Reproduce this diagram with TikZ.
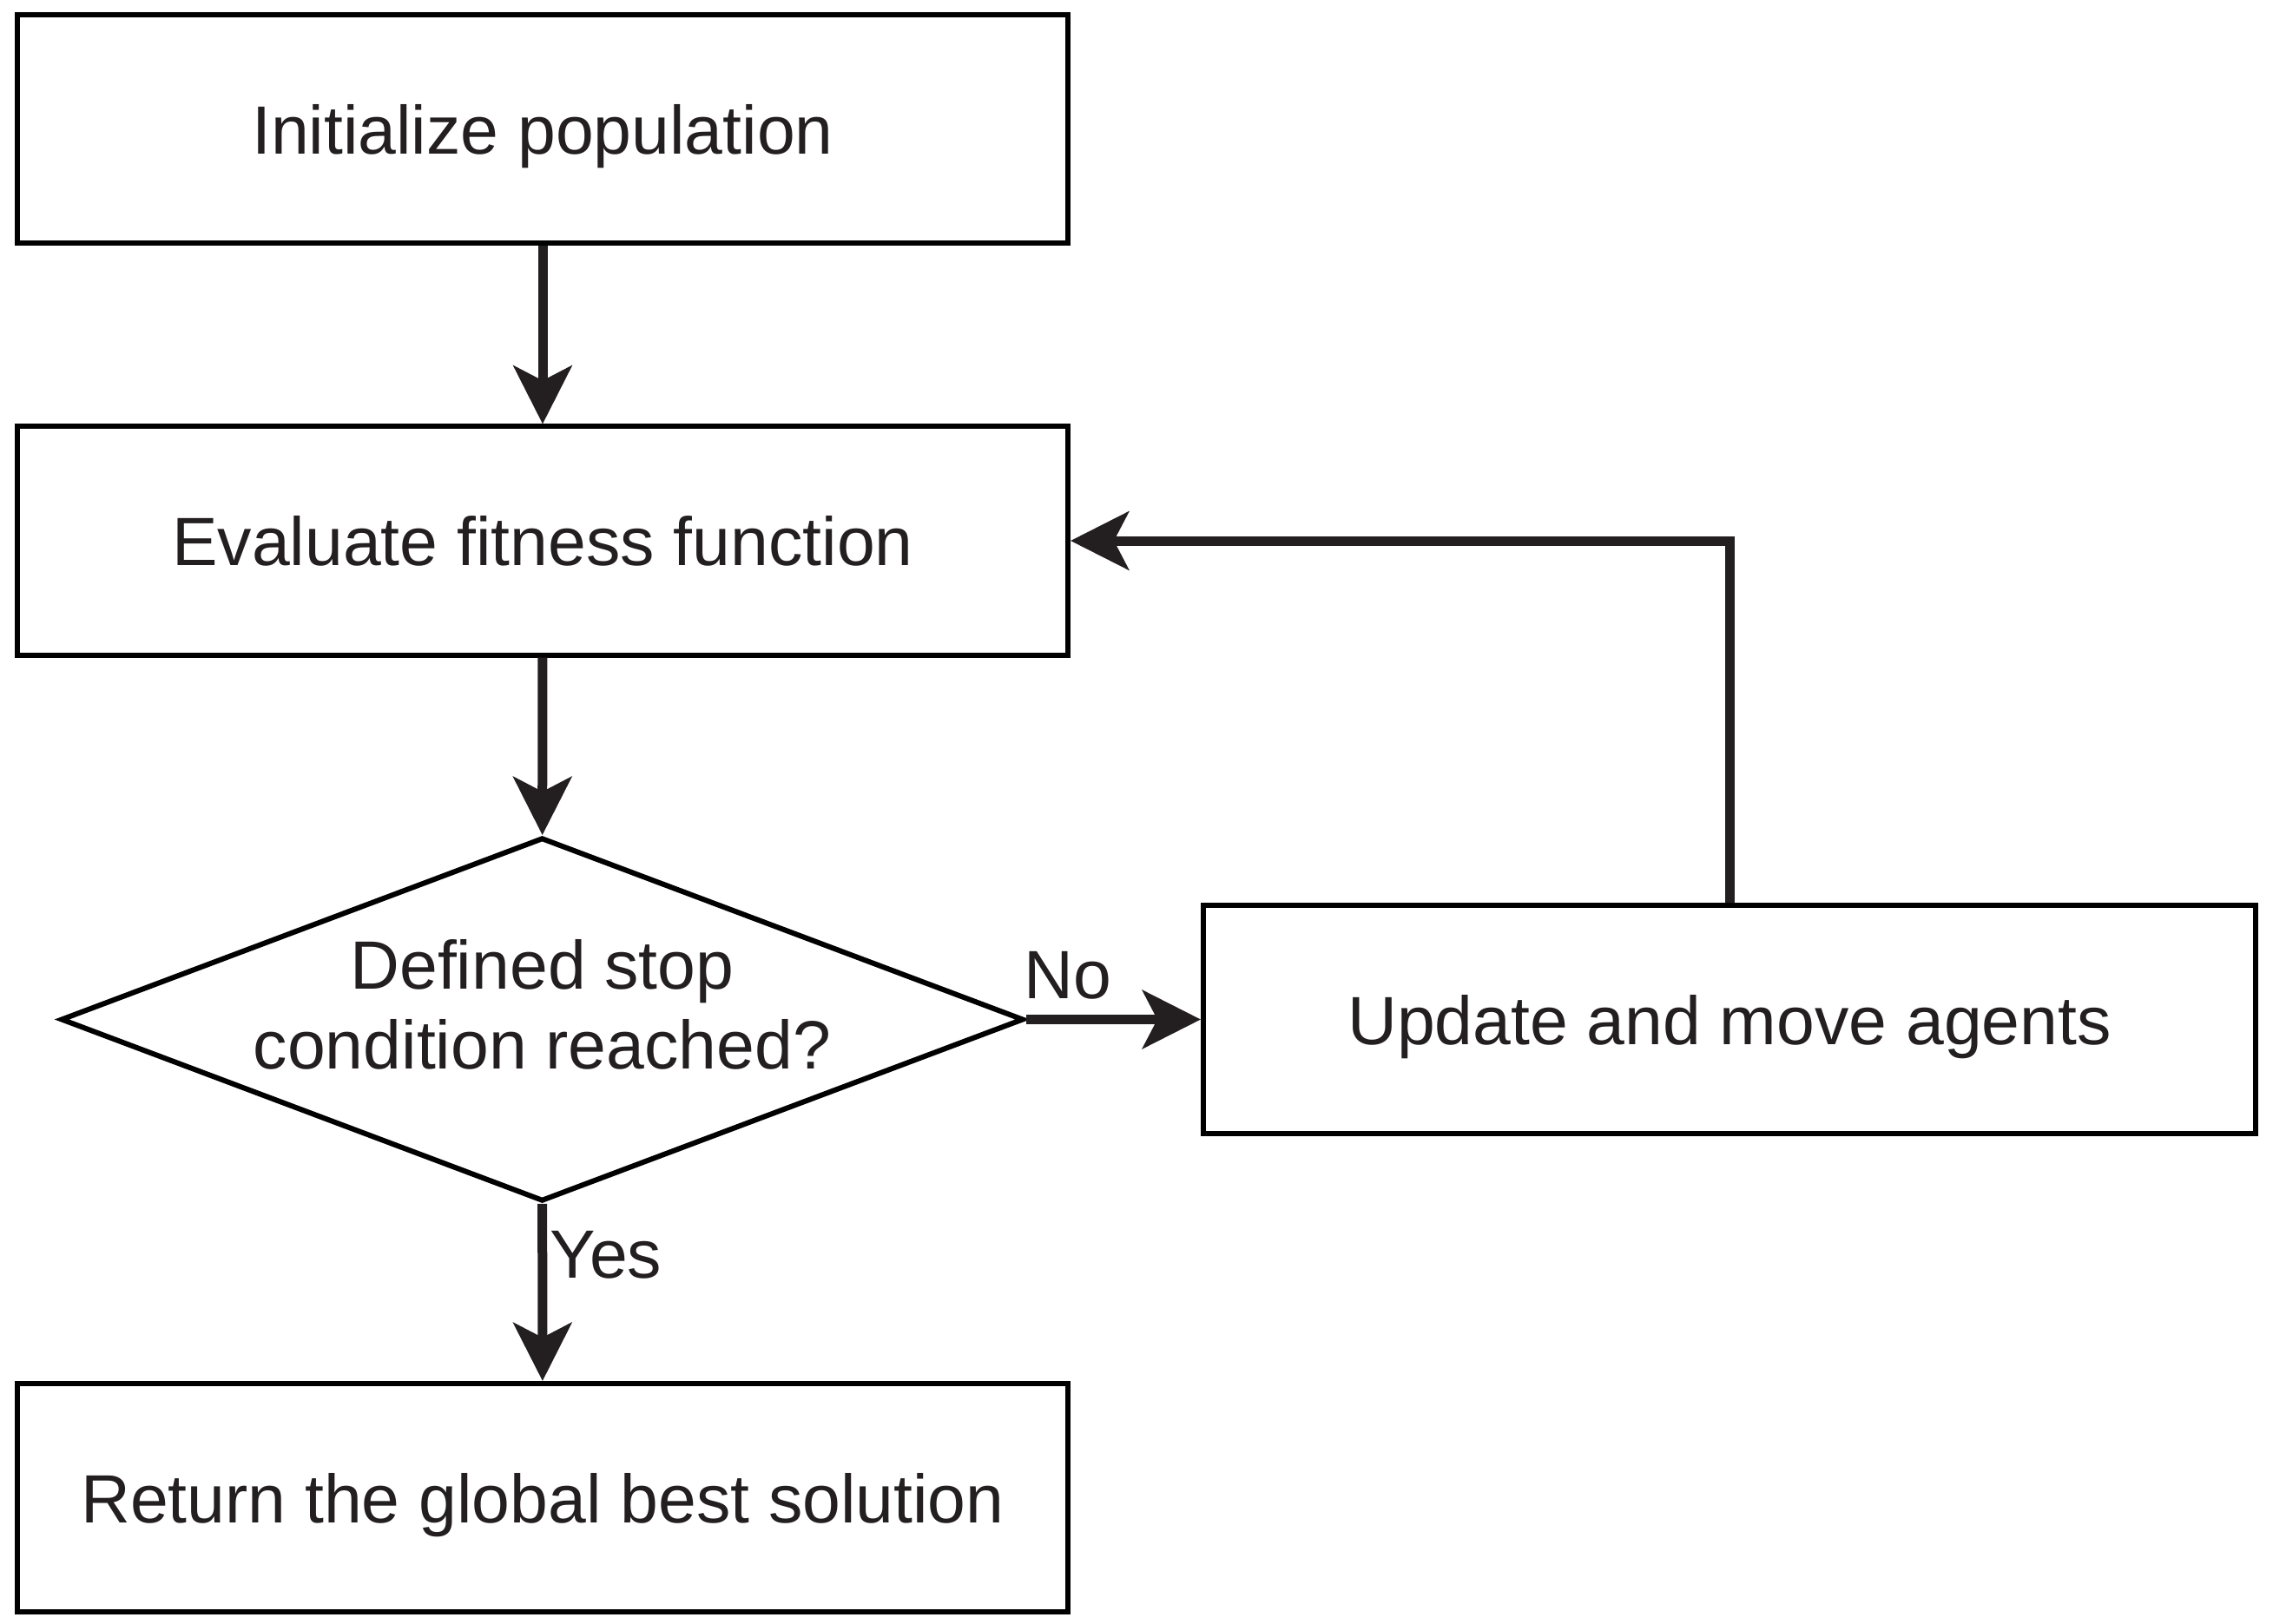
\documentclass[tikz,border=0pt]{standalone}
\usepackage{fontspec}
\setmainfont{Liberation Sans}
\usepackage{tikz}
\usetikzlibrary{positioning, shapes.geometric, arrows.meta}
\definecolor{ink}{HTML}{231F20}
\tikzset{Block/.style={draw, rectangle, line width=0.06cm, inner sep=0pt, minimum width=12.1cm, minimum height=2.63cm, text depth=0pt, align=center, text=ink, font=\fontsize{22.4}{26}\selectfont}}
\tikzset{Decision/.style={draw, diamond, aspect=2.65, line width=0.06cm, inner ysep=0pt, inner xsep=-0.5cm, text depth=10pt, minimum width=11.09cm, minimum height=4.19cm, align=center, text=ink, font=\fontsize{22.4}{26}\selectfont}}
\tikzset{Block Edge/.style={draw, ink, line width=0.11cm, -{Stealth[length=0.67cm, width=0.67cm, inset=0.17cm]}}}
\tikzset{Tag/.style={inner sep=0pt, text=ink, font=\fontsize{22.4}{26}\selectfont}}

\begin{document}
\begin{tikzpicture}
\useasboundingbox (0,0) rectangle (26.18,-18.71);

\node[Block] (init) at (6.25,-1.485) {Initialize population};
\node[Block] (eval) at (6.25,-6.23) {Evaluate fitness function};
\node[Decision] (stop) at (6.245,-11.745) {Defined stop\\condition reached?};
\node[Block, minimum width=12.12cm] (move) at (19.92,-11.745) {Update and move agents};
\node[Block] (best) at (6.25,-17.255) {Return the global best solution};

\node[Tag] (no) at (12.3,-11.24) {No};
\node[Tag] (yes) at (6.98,-14.46) {Yes};

\draw[Block Edge] (init) -- (eval);
\draw[Block Edge] (eval) -- (stop);
\draw[Block Edge] (stop) -- (move);
\draw[Block Edge] (stop) -- (best);
\draw[Block Edge] (move.north) |- (eval.east);
\end{tikzpicture}
\end{document}
